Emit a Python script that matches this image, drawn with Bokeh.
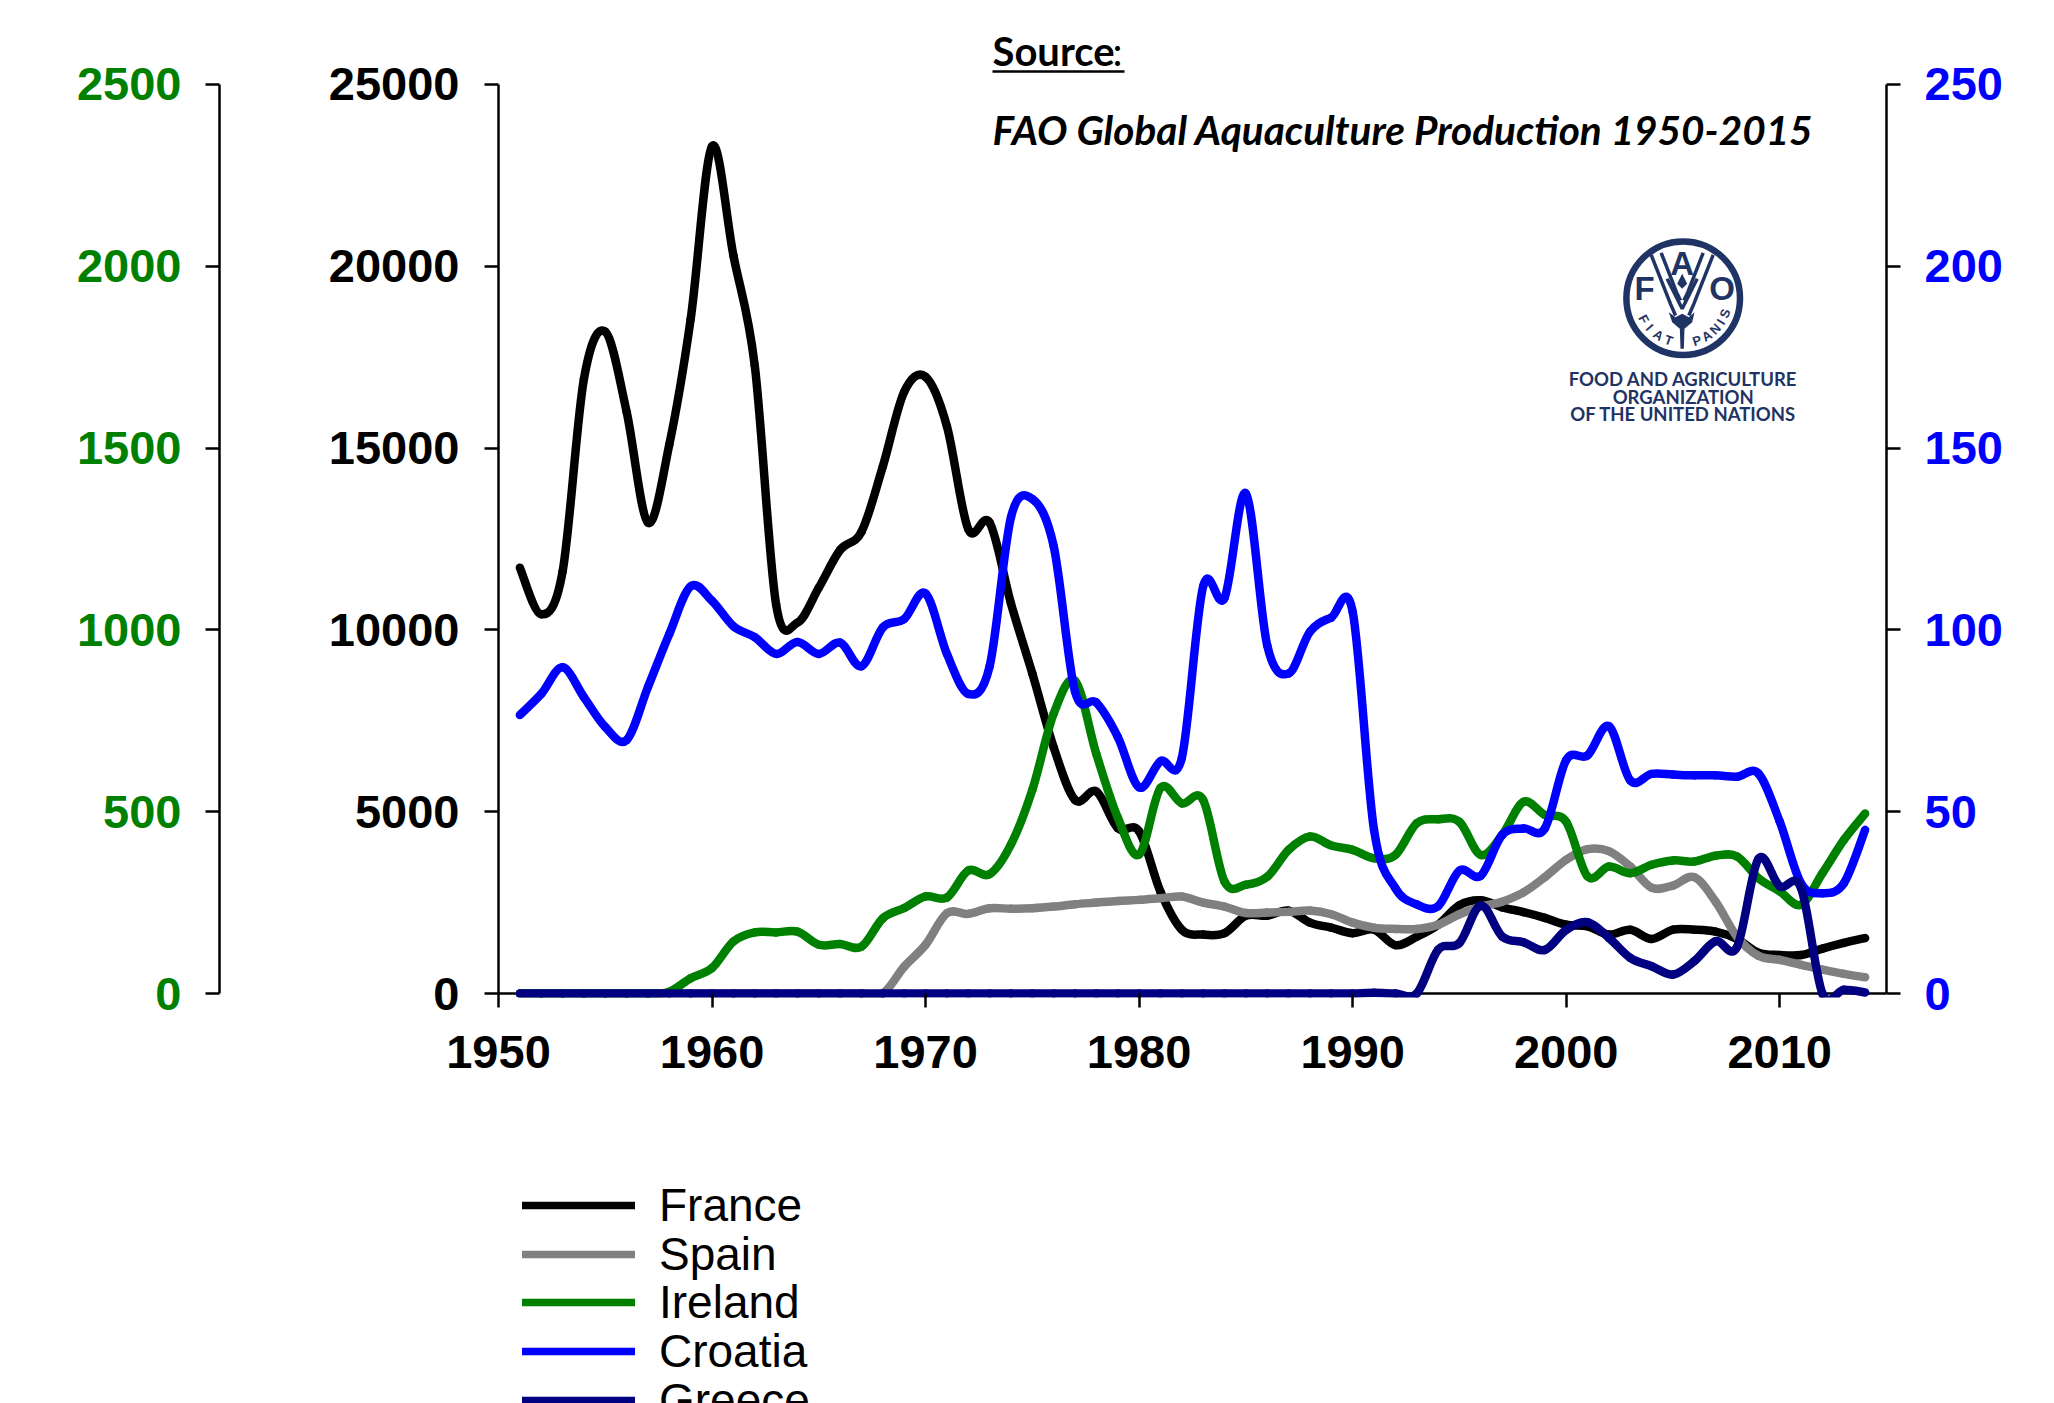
import math
from bokeh.plotting import figure
from bokeh.layouts import column
from bokeh.models import (Range1d, LinearAxis, FixedTicker, Legend, LegendItem, Label)
from bokeh.core.properties import value
from bokeh.embed import file_html
from bokeh.resources import INLINE

years = list(range(1951, 2015))
france = [11710, 10430, 11600, 16900, 18200, 16000, 12950, 15100, 18550, 23300, 20300, 17270, 10700, 10200, 11160, 12200,
          12700, 14500, 16550, 16960, 15600, 12770, 12950, 10725, 8800, 6770, 5320, 5555, 4550, 4460, 2800, 1755,
          1620, 1660, 2140, 2140, 2280, 1950, 1810, 1660, 1755, 1330, 1560, 1890, 2430, 2565, 2370, 2240,
          2080, 1890, 1850, 1620, 1755, 1500, 1755, 1755, 1700, 1500, 1120, 1060, 1060, 1235, 1390, 1525]
spain = [0, 0, 0, 0, 0, 0, 0, 0, 0, 0, 0, 0, 0, 0, 0, 0,
         0, 0, 740, 1340, 2210, 2190, 2345, 2330, 2345, 2390, 2455, 2500, 2545, 2575, 2620, 2665,
         2500, 2390, 2215, 2225, 2245, 2280, 2180, 1950, 1810, 1775, 1775, 1890, 2180, 2390, 2525, 2780,
         3200, 3680, 3970, 3915, 3490, 2910, 2970, 3200, 2525, 1560, 1040, 925, 790, 655, 540, 445]
ireland = [0, 0, 0, 0, 0, 0, 0, 5, 42, 70, 143, 168, 168, 170, 134, 136,
           129, 207, 235, 267, 264, 338, 328, 410, 560, 770, 860, 658, 484, 382, 565, 523,
           532, 308, 299, 321, 395, 432, 407, 395, 372, 381, 468, 479, 472, 381, 436, 527,
           491, 472, 322, 349, 331, 354, 366, 363, 379, 377, 317, 281, 244, 331, 422, 495]
croatia = [76.6, 82.4, 89.7, 81.5, 73.3, 69.7, 84.3, 98.9, 112, 108, 101, 98, 93.4, 96.7, 93.4, 96.5,
           90, 100.7, 103, 110, 93.4, 82.4, 90, 131, 136, 123, 83, 80, 70.6, 56.7, 63.9, 64.8,
           112, 108.8, 137.5, 95.7, 88, 99.5, 103.4, 105, 45, 29, 24.5, 24, 33.8, 32.4, 43.6, 45.4,
           45.4, 64.2, 65.5, 73.5, 58.6, 60.4, 60.2, 60, 60, 59.6, 60.5, 47.3, 30.3, 27.6, 30.3, 45]
greece = [0, 0, 0, 0, 0, 0, 0, 0, 0, 0, 0, 0, 0, 0, 0, 0,
          0, 0, 0, 0, 0, 0, 0, 0, 0, 0, 0, 0, 0, 0, 0, 0,
          0, 0, 0, 0, 0, 0, 0, 0, 0.2, 0, 0, 12, 13.9, 24.2, 15.7, 14.1,
          12, 17.5, 19.6, 15.3, 9.8, 7.5, 5.2, 8.9, 14.4, 12.8, 37, 29.5, 29, 0, 1, 0.3]
names = ["France", "Spain", "Ireland", "Croatia", "Greece"]
colors = ["#000000", "#808080", "#008000", "#0000FF", "#000080"]
main_ticks = [0, 5000, 10000, 15000, 20000, 25000]
green_ticks = [0, 500, 1000, 1500, 2000, 2500]
blue_ticks = [0, 50, 100, 150, 200, 250]
x_ticks = [1950, 1960, 1970, 1980, 1990, 2000, 2010]

FONT = "Liberation Sans"
TICK = "47px"
NAVY_LOGO = "#1F3464"

p = figure(width=2054, height=1100, output_backend="svg", toolbar_location=None,
           x_range=Range1d(1950, 2015), y_range=Range1d(-110, 27310),
           min_border_left=498, min_border_right=168, min_border_top=0, min_border_bottom=103,
           x_axis_type=None, y_axis_type=None, background_fill_color="white", border_fill_color="white")
p.outline_line_color = None
p.grid.visible = False
p.extra_y_ranges = {"green": Range1d(-11, 2731), "blue": Range1d(-1.1, 273.1), "py": Range1d(997, 0)}
p.extra_x_ranges = {"px": Range1d(498, 1886)}


def style(ax, color, standoff):
    ax.major_label_text_font = FONT
    ax.major_label_text_font_style = "bold"
    ax.major_label_text_font_size = TICK
    ax.major_label_text_color = color
    ax.major_label_standoff = standoff
    ax.axis_line_color = "black"
    ax.axis_line_width = 2.5
    ax.major_tick_line_color = "black"
    ax.major_tick_line_width = 2.5
    ax.major_tick_out = 14
    ax.major_tick_in = 0
    ax.minor_tick_line_color = None


main_ax = LinearAxis(ticker=FixedTicker(ticks=main_ticks), bounds=(0, 25000), axis_label=" ",
                     axis_label_standoff=81, axis_label_text_font_size="20px")
style(main_ax, "black", 25)
p.add_layout(main_ax, "left")

green_ax = LinearAxis(y_range_name="green", ticker=FixedTicker(ticks=green_ticks), bounds=(0, 2500))
style(green_ax, "#008000", 24)
p.add_layout(green_ax, "left")

blue_ax = LinearAxis(y_range_name="blue", ticker=FixedTicker(ticks=blue_ticks), bounds=(0, 250))
style(blue_ax, "#0000FF", 24)
p.add_layout(blue_ax, "right")

x_ax = LinearAxis(ticker=FixedTicker(ticks=x_ticks), bounds=(1950, 2015))
style(x_ax, "black", 28)
x_ax.axis_line_color = None
x_ax.major_tick_in = 4
x_ax.major_tick_out = 10
p.add_layout(x_ax, "below")

# x axis rule at the value 0 (the frame runs a few pixels lower so that thick lines at 0 keep their full width)
p.segment(x0=[1950], y0=[0], x1=[2015], y1=[0], line_color="black", line_width=2.5)


def smooth(xs, ys):
    """Spline segments through the yearly values, as Excel's smoothed lines do."""
    n = len(xs)
    data = dict(x0=[], y0=[], x1=[], y1=[], cx0=[], cy0=[], cx1=[], cy1=[])
    for i in range(n - 1):
        a = max(i - 1, 0)
        b = min(i + 2, n - 1)
        data["x0"].append(xs[i])
        data["y0"].append(ys[i])
        data["x1"].append(xs[i + 1])
        data["y1"].append(ys[i + 1])
        data["cx0"].append(xs[i] + (xs[i + 1] - xs[a]) / 6)
        data["cy0"].append(ys[i] + (ys[i + 1] - ys[a]) / 6)
        data["cx1"].append(xs[i + 1] - (xs[b] - xs[i]) / 6)
        data["cy1"].append(ys[i + 1] - (ys[b] - ys[i]) / 6)
    return data


series = [(france, "default"), (spain, "default"), (ireland, "green"), (croatia, "blue"), (greece, "blue")]
for (vals, rng), col in zip(series, colors):
    p.bezier(x0="x0", y0="y0", x1="x1", y1="y1", cx0="cx0", cy0="cy0", cx1="cx1", cy1="cy1",
             source=smooth(years, vals), line_color=col, line_width=8.5, line_cap="round", y_range_name=rng)


def label(x, y, text, size, style_="normal", font="Lato", color="black", align="left"):
    p.add_layout(Label(x=x, y=y, x_range_name="px", y_range_name="py", text=text, text_font=font,
                       text_font_size=size, text_font_style=style_, text_color=color,
                       text_align=align, text_baseline="middle"))


label(992, 50.5, "Source", "40px", "bold")
label(1112, 50.5, ":", "40px", "normal")
label(992, 128.5, "FAO Global Aquaculture Production 1950-2015", "40.5px", "bold italic")
p.segment(x0=[992], y0=[71], x1=[1124], y1=[71], x_range_name="px", y_range_name="py", line_color="black", line_width=2.5)

# FAO emblem, in page pixels
cx, cy = 1682.7, 297.7
p.circle(x=[cx], y=[cy], radius=56.8, x_range_name="px", y_range_name="py", fill_color=None,
         line_color=NAVY_LOGO, line_width=6.5)
label(1644, 288.3, "F", "33px", "bold", FONT, NAVY_LOGO, "center")
label(1681.7, 263, "A", "33px", "bold", FONT, NAVY_LOGO, "center")
label(1721.7, 288.3, "O", "33px", "bold", FONT, NAVY_LOGO, "center")


def z(pts):
    return [1620 + a / 3 for a, _ in pts], [235 + b / 3 for _, b in pts]


strands = [[(92, 58), (150, 205), (165, 240)], [(122, 52), (168, 170), (180, 195)],
           [(278, 58), (220, 205), (205, 240)], [(248, 52), (202, 170), (190, 195)],
           [(140, 130), (185, 220), (230, 130)]]
xs, ys = zip(*[z(s) for s in strands])
p.multi_line(xs=list(xs), ys=list(ys), x_range_name="px", y_range_name="py", line_color=NAVY_LOGO, line_width=3.5)
bx, by = z([(145, 230), (165, 245), (185, 235), (205, 245), (222, 230), (215, 260), (192, 280), (190, 340),
            (180, 340), (178, 280), (155, 260)])
p.patch(x=bx, y=by, x_range_name="px", y_range_name="py", fill_color=NAVY_LOGO, line_color=None)
dx, dy = z([(185, 115), (200, 145), (185, 160), (170, 145)])
p.patch(x=dx, y=dy, x_range_name="px", y_range_name="py", fill_color=NAVY_LOGO, line_color=None)

motto = "FIATPANIS"
phis = [-62, -49, -34, -19, 18, 32, 46, 58, 70]
lx = [cx + 44.5 * math.sin(math.radians(a)) for a in phis]
ly = [cy + 44.5 * math.cos(math.radians(a)) for a in phis]
p.text(x=lx, y=ly, text=list(motto), angle=[math.radians(a) for a in phis], x_range_name="px", y_range_name="py",
       text_font=value(FONT), text_font_size="13px", text_font_style="bold", text_color=NAVY_LOGO,
       text_align="center", text_baseline="middle")

label(1682.7, 378, "FOOD AND AGRICULTURE", "18.5px", "bold", "Lato", NAVY_LOGO, "center")
label(1682.7, 396, "ORGANIZATION", "18.5px", "bold", "Lato", NAVY_LOGO, "center")
label(1682.7, 413, "OF THE UNITED NATIONS", "18.5px", "bold", "Lato", NAVY_LOGO, "center")

# Legend, in a strip of its own below the chart; its frame lines up with the chart's frame.
# One Legend per row, because a single Legend cannot set its rows closer than the font's height.
q = figure(width=2054, height=303, output_backend="svg", toolbar_location=None,
           x_range=Range1d(0, 1), y_range=Range1d(0, 1), min_border=0,
           x_axis_type=None, y_axis_type=None, background_fill_color="white", border_fill_color="white")
q.outline_line_color = None
q.grid.visible = False
row_step = 48.7
for i, (n, (vals, _), c) in enumerate(zip(names, series, colors)):
    key = q.line(x=years, y=vals, line_color=c, line_width=7.5, line_cap="round")
    q.add_layout(Legend(items=[LegendItem(label=n, renderers=[key])],
                        location=(24, 1376 - (1205 + i * row_step)), padding=0, margin=0, spacing=0,
                        glyph_width=113, glyph_height=48, label_height=48, label_standoff=24,
                        label_text_font=FONT, label_text_font_size="46px",
                        label_text_baseline="middle", label_text_color="black",
                        background_fill_alpha=0, border_line_color=None), "center")

open("out.html", "w").write(file_html(column(p, q, spacing=0), INLINE))
